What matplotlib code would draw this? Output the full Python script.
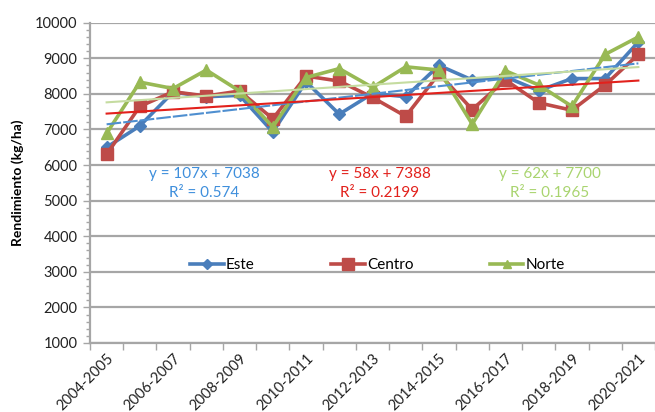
import matplotlib
matplotlib.use("Agg")
import matplotlib.pyplot as plt
import numpy as np
from matplotlib.lines import Line2D

plt.rcParams['font.family'] = ['Lato', 'DejaVu Sans']

seasons = ["2004-2005", "2005-2006", "2006-2007", "2007-2008", "2008-2009",
           "2009-2010", "2010-2011", "2011-2012", "2012-2013", "2013-2014",
           "2014-2015", "2015-2016", "2016-2017", "2017-2018", "2018-2019",
           "2019-2020", "2020-2021"]
este = [6500, 7100, 8050, 7920, 7960, 6930, 8340, 7430, 8010, 7920,
        8800, 8390, 8480, 8090, 8430, 8430, 9460]
centro = [6300, 7650, 8060, 7940, 8080, 7300, 8500, 8360, 7900, 7370,
          8570, 7560, 8390, 7750, 7540, 8250, 9110]
norte = [6890, 8330, 8150, 8670, 8080, 7070, 8460, 8710, 8180, 8760,
         8670, 7150, 8650, 8250, 7650, 9110, 9600]
# trend equations shown on the chart (x = 1..17)
trend_coef = {"Este": (107, 7038), "Centro": (58, 7388), "Norte": (62, 7700)}
trend_r2 = {"Este": "0.574", "Centro": "0.2199", "Norte": "0.1965"}

W, H = 655, 412
fig = plt.figure(figsize=(W / 100, H / 100), dpi=100)
left, right, top, bottom = 90, 655, 22.7, 343
ax = fig.add_axes([left / W, 1 - bottom / H, (right - left) / W, (bottom - top) / H])

x = np.arange(len(seasons))
# name, values, colour, marker, size, legend marker size, trend colour, trend style, text colour
series = [
    ("Este", este, "#4a7ebb", "D", 6, 5, "#4f8fd0", (0, (7, 1)), "#3f8fdc"),
    ("Centro", centro, "#be4b48", "s", 9, 8, "#e2211c", "-", "#e2211c"),
    ("Norte", norte, "#98b954", "^", 9, 6, "#c5dca0", "-", "#a9d46f"),
]

handles = []
for name, vals, col, mk, ms, lms, tcol, tls, txtcol in series:
    ax.plot(x, vals, color=col, lw=2.6, marker=mk, ms=ms, mec=col, mfc=col, zorder=3)
    handles.append(Line2D([0], [0], color=col, lw=2.6, marker=mk, ms=lms, mec=col, mfc=col))

# trend lines
for name, vals, col, mk, ms, lms, tcol, tls, txtcol in series:
    a, b = trend_coef[name]
    ax.plot(x, a * (x + 1) + b, color=tcol, lw=1.5, ls=tls, zorder=4)

ax.set_xlim(-0.5, 16.42)
ax.set_ylim(1000, 10000)
ax.set_yticks(np.arange(1000, 10001, 1000))
ax.set_yticks(np.arange(1000, 10001, 200), minor=True)
ax.grid(axis="y", which="major", color="#a6a6a6", lw=1.6, zorder=0)

ax.set_xticks(np.arange(-0.5, 16.6, 1))
ax.set_xticklabels([])
ax.set_xticks(x[::2], minor=True)
ax.set_xticklabels(seasons[::2], minor=True, rotation=45, ha="right", va="top",
                   rotation_mode="anchor", fontsize=10.5, color="#222222")
ax.tick_params(axis="x", which="major", length=5, width=1, color="#a6a6a6", direction="out")
ax.tick_params(axis="x", which="minor", length=0, pad=6)
ax.tick_params(axis="y", which="major", length=5, width=1, color="#a6a6a6",
               labelsize=10.5, labelcolor="#222222", pad=4)
ax.tick_params(axis="y", which="minor", length=3, width=1, color="#a6a6a6")

for s in ["top", "right"]:
    ax.spines[s].set_visible(False)
for s in ["left", "bottom"]:
    ax.spines[s].set_color("#a6a6a6")
    ax.spines[s].set_linewidth(1.6)

ax.set_ylabel("Rendimiento (kg/ha)", fontsize=10, fontweight="bold", labelpad=8)

# equation labels, placed in data units
eq_x = {"Este": 2.94, "Centro": 8.21, "Norte": 13.33}
for name, vals, col, mk, ms, lms, tcol, tls, txtcol in series:
    a, b = trend_coef[name]
    ax.text(eq_x[name], 5740, f"y = {a}x + {b}", color=txtcol, fontsize=11,
            ha="center", va="center")
    ax.text(eq_x[name], 5210, f"R² = {trend_r2[name]}", color=txtcol, fontsize=11,
            ha="center", va="center")

ax.legend(handles, ["Este", "Centro", "Norte"], loc="center left",
          bbox_to_anchor=((190 - left) / (right - left), (bottom - 265) / (bottom - top)),
          ncol=3, frameon=False, fontsize=11, handlelength=2.2, handletextpad=0.15,
          columnspacing=5.0, borderpad=0, borderaxespad=0)

fig.savefig("out.png", dpi=100)
